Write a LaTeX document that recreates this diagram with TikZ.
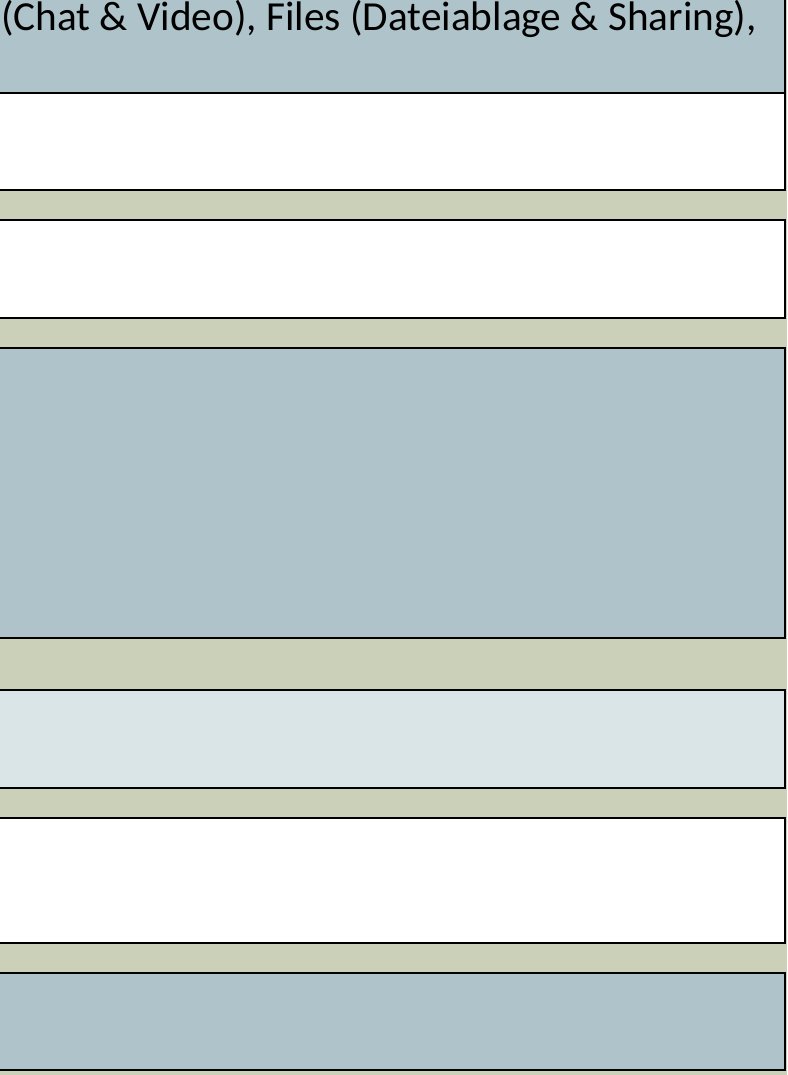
\documentclass[tikz,border=0pt]{standalone}
\usepackage{fontspec}
\setmainfont{Carlito}
\definecolor{bgolive}{HTML}{CBD1B8}
\definecolor{boxblue}{HTML}{AEC4CA}
\definecolor{boxpale}{HTML}{DAE5E7}
\tikzset{
  band/.style={draw=black, line width=1.6pt, inner sep=0pt, outer sep=0pt, anchor=north west}
}
\begin{document}
\begin{tikzpicture}[x=1pt,y=-1pt]
\useasboundingbox (0,0) rectangle (787,1075);
\fill[bgolive] (0,0) rectangle (787,1075);
% bands: left edge off-picture
\node[band, fill=boxblue, minimum width=795pt, minimum height=103pt] (b1) at (-10,-10) {};
\node[band, fill=white, minimum width=795pt, minimum height=97pt] (b2) at (-10,93) {};
\node[band, fill=white, minimum width=795pt, minimum height=98pt] (b3) at (-10,220) {};
\node[band, fill=boxblue, minimum width=795pt, minimum height=290pt] (b4) at (-10,348) {};
\node[band, fill=boxpale, minimum width=795pt, minimum height=98pt] (b5) at (-10,690) {};
\node[band, fill=white, minimum width=795pt, minimum height=125pt] (b6) at (-10,818) {};
\node[band, fill=boxblue, minimum width=795pt, minimum height=97pt] (b7) at (-10,973) {};
\node[anchor=base east, inner sep=0pt, font=\fontsize{41.3}{48}\selectfont] (t1) at (757,31) {(Chat \& Video), Files (Dateiablage \& Sharing),};
\end{tikzpicture}
\end{document}
